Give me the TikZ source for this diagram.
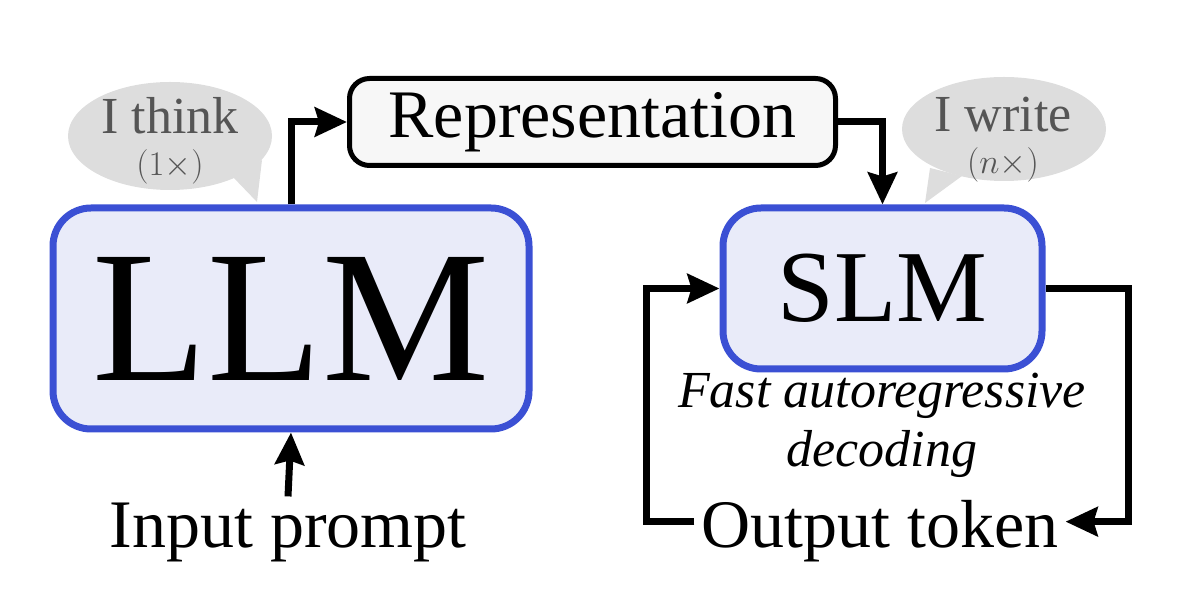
\documentclass[tikz,border=0pt]{standalone}
\usepackage[no-math]{fontspec}
\setmainfont{Liberation Serif}
\usetikzlibrary{arrows.meta}
\definecolor{boxblue}{RGB}{59,80,212}
\definecolor{boxfill}{RGB}{233,235,249}
\definecolor{repfill}{RGB}{247,247,247}
\definecolor{bubgray}{RGB}{221,221,221}
\definecolor{bubtext}{RGB}{85,85,85}

\begin{document}
\begin{tikzpicture}[x=0.5pt,y=-0.5pt,
  model/.style={draw=boxblue,fill=boxfill,line width=3.5pt,rounded corners=19pt},
  repbox/.style={draw=black,fill=repfill,line width=2.5pt,rounded corners=10pt},
  arr/.style={line width=3.5pt,-{Stealth[length=16pt,width=14.5pt,inset=2pt]}},
  bubble/.style={fill=bubgray},
  saying/.style={text=bubtext,font=\fontsize{26}{26}\selectfont,inner sep=0pt,align=center,anchor=north},
  labeltext/.style={font=\fontsize{34}{34}\selectfont},
  italictext/.style={font=\fontsize{26}{26}\selectfont\itshape,inner sep=0pt}]
\useasboundingbox (0,0) rectangle (1184,608);

\fill[bubble] (170,136) ellipse [x radius=51pt, y radius=27pt];
\fill[bubble] (232,176) -- (257,202) -- (262,160) -- cycle;
\fill[bubble] (1004,129) ellipse [x radius=51pt, y radius=26pt];
\fill[bubble] (930,168) -- (925,203) -- (962,176) -- cycle;
\node[saying] (think) at (170,97) {I think\\[-5pt]{\fontsize{17.5}{17.5}\selectfont$(1\times)$}};
\node[saying] (write) at (1003,97) {I write\\[-5pt]{\fontsize{17.5}{17.5}\selectfont$(n\times)$}};

\node[model,minimum width=238pt,minimum height=110.5pt,
  font=\fontsize{94}{94}\selectfont] (llm) at (291,318.5) {LLM};
\node[model,minimum width=159.5pt,minimum height=80.5pt,
  font=\fontsize{51}{51}\selectfont] (slm) at (882.5,288.5) {SLM};
\node[repbox,minimum width=243pt,minimum height=43.5pt,labeltext] (rep) at (592.5,122) {Representation};

\node[labeltext,anchor=base] (input) at (288,548) {Input prompt};
\node[labeltext,anchor=base] (output) at (880,548) {Output token};
\node[italictext,anchor=base] (fast) at (882,408) {Fast autoregressive};
\node[italictext,anchor=base] (decoding) at (882,467) {decoding};

\draw[arr] (llm.north) |- (rep.west);
\draw[arr] (rep.east) -| (slm.north);
\draw[arr] (input.north) -- (llm.south);
\draw[arr] (slm.east) -- ++(83,0) |- ([yshift=5pt]output.east);
\draw[arr] ([yshift=5pt]output.west) -- ++(-48,0) |- (slm.west);
\end{tikzpicture}
\end{document}
